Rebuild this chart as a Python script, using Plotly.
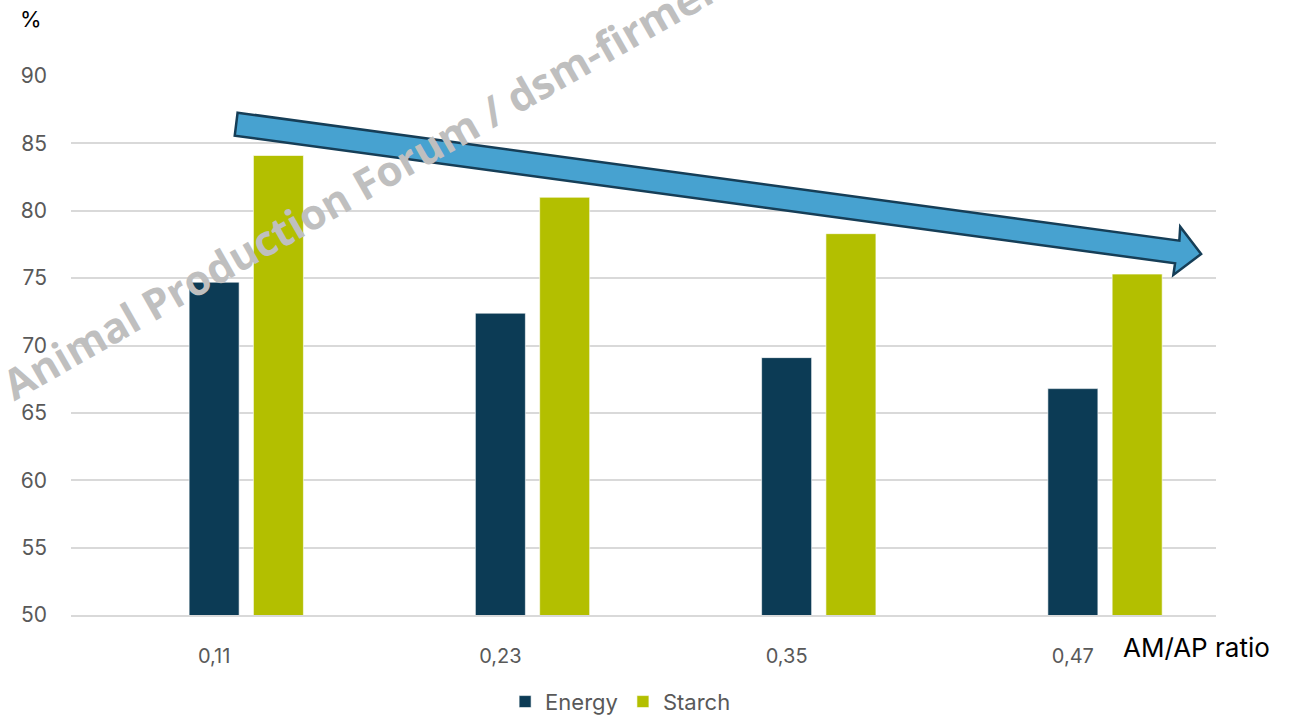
import plotly.graph_objects as go

# ---- data ----
categories = ["0,11", "0,23", "0,35", "0,47"]
energy = [74.7, 72.4, 69.1, 66.8]
starch = [84.1, 81.0, 78.3, 75.3]
series_names = ["Energy", "Starch"]
y_ticks = [50, 55, 60, 65, 70, 75, 80, 85, 90]

# trend arrow outline in data units (x = category index, y = %)
arrow_x = [0.082, 3.372, 3.375, 3.448, 3.351, 3.357, 0.072]
arrow_y = [87.28, 77.78, 78.82, 76.79, 75.23, 76.10, 85.57]

x_idx = list(range(len(categories)))
ENERGY_C = "#0c3b55"
STARCH_C = "#b3bf00"
GRID_C = "#d9d9d9"
TICK_C = "#595959"
FONT = "Inter"

bar_w = 0.1747
fig = go.Figure()
fig.add_trace(go.Bar(x=x_idx, y=energy, name=series_names[0], width=bar_w, offset=-bar_w / 2,
                     marker=dict(color=ENERGY_C, line=dict(color="rgba(255,255,255,0.6)", width=1))))
fig.add_trace(go.Bar(x=x_idx, y=starch, name=series_names[1], width=bar_w, offset=0.2246 - bar_w / 2,
                     marker=dict(color=STARCH_C, line=dict(color="rgba(255,255,255,0.6)", width=1))))

path = "M " + " L ".join(f"{x},{y}" for x, y in zip(arrow_x, arrow_y)) + " Z"
fig.add_shape(type="path", path=path, xref="x", yref="y",
              fillcolor="#47a2d0", line=dict(color="#163e57", width=2.5), layer="above")

fig.update_layout(
    width=1306, height=721,
    margin=dict(l=71, r=90, t=76, b=106, autoexpand=False),
    paper_bgcolor="white", plot_bgcolor="white",
    barmode="overlay",
    font=dict(family=FONT, color=TICK_C, size=20),
    showlegend=True,
    legend=dict(orientation="h", x=0.48, xanchor="center", y=-0.161, yanchor="middle",
                font=dict(size=22, color=TICK_C, family=FONT), itemwidth=30, traceorder="normal"),
    xaxis=dict(range=[-0.5, 3.5], tickvals=x_idx, ticktext=categories, showgrid=False,
               zeroline=False, showline=True, linecolor=GRID_C, linewidth=2,
               ticks="", ticklabelstandoff=22, tickfont=dict(size=20, color=TICK_C, family=FONT)),
    yaxis=dict(range=[50, 90], tickvals=y_ticks, showgrid=True, gridcolor=GRID_C, gridwidth=2,
               zeroline=False, showline=False, ticks="", ticklabelstandoff=23,
               tickfont=dict(size=21, color=TICK_C, family=FONT)),
)

fig.add_annotation(text="%", xref="paper", yref="paper", x=-0.035, y=1.1057,
                   xanchor="center", yanchor="middle", showarrow=False,
                   font=dict(size=22, color="black", family=FONT))
fig.add_annotation(text="AM/AP ratio", xref="paper", yref="paper", x=0.917, y=-0.0594,
                   xanchor="left", yanchor="middle", showarrow=False,
                   font=dict(size=26, color="black", family=FONT))
fig.add_annotation(text="© Animal Production Forum / dsm-firmenich", xref="paper", yref="paper",
                   x=-0.1066, y=0.330, xanchor="left", yanchor="bottom", textangle=-29.7,
                   showarrow=False, font=dict(size=42, color="#bfbfbf", family="Open Sans", weight=700))

fig.write_html("out.html")
